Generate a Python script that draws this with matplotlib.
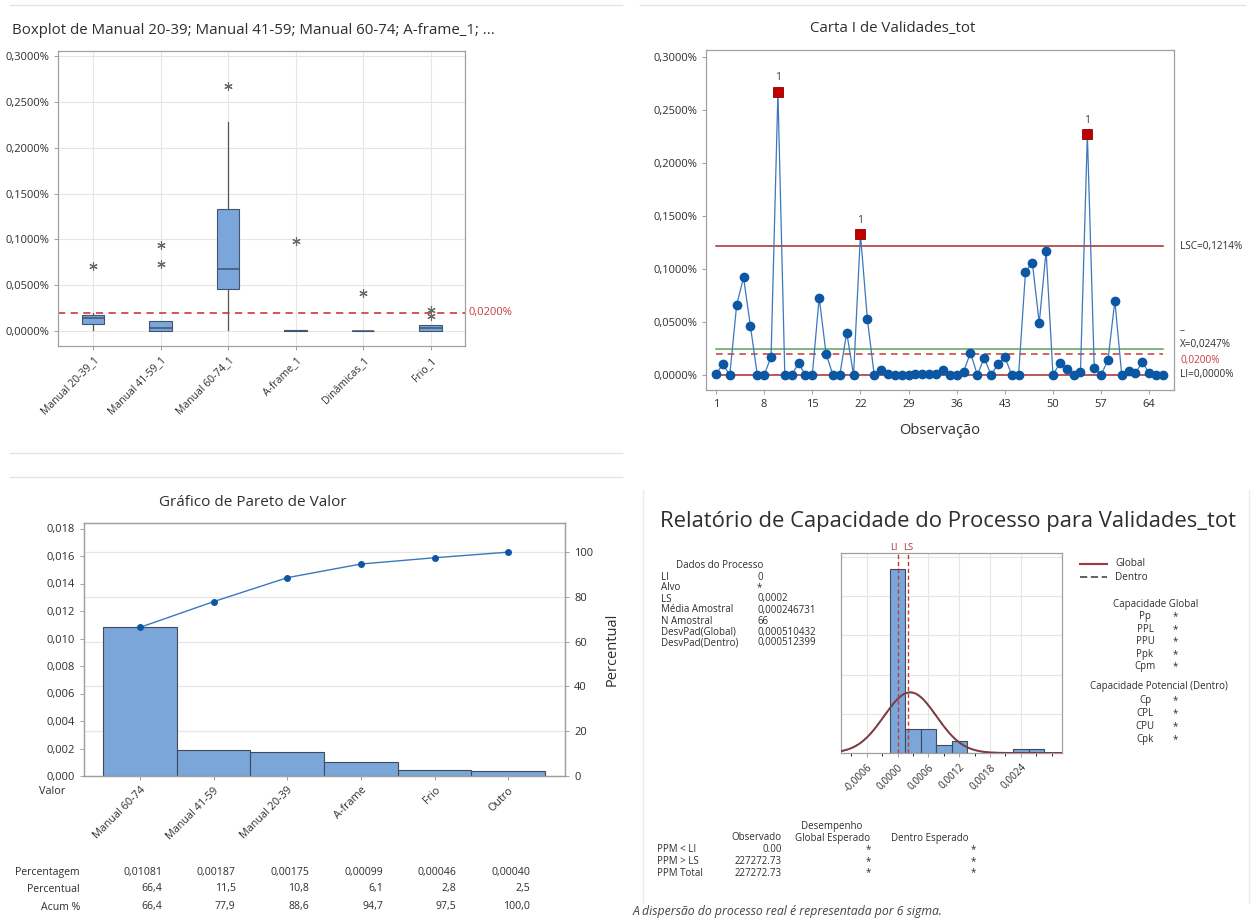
import numpy as np
import matplotlib.pyplot as plt
from matplotlib.ticker import FuncFormatter, MultipleLocator
import matplotlib.transforms as mtrans

plt.rcParams['font.family'] = ['Open Sans', 'DejaVu Sans']

W, H = 1252, 923

# ---------------- dados ----------------
# boxplot (valores em %)
box_nomes = ["Manual 20-39_1", "Manual 41-59_1", "Manual 60-74_1", "A-frame_1", "Dinâmicas_1", "Frio_1"]
box_q1 = [0.0080, 0.0000, 0.0462, 0.0000, 0.0000, 0.0000]
box_med = [0.0138, 0.0030, 0.0673, 0.0004, 0.0000, 0.0030]
box_q3 = [0.0172, 0.0113, 0.1335, 0.0012, 0.0002, 0.0062]
box_min = [0.0010, 0.0000, 0.0010, 0.0000, 0.0000, 0.0000]
box_max = [0.0195, 0.0113, 0.2284, 0.0012, 0.0002, 0.0062]
box_out = [[0.0709], [0.0938, 0.0731], [0.2673], [0.0978], [0.0415], [0.0229, 0.0164]]
limite = 0.0200

# carta I (valores em %)
validades = [0.001, 0.010, 0.000, 0.066, 0.092, 0.046, 0.000, 0.000, 0.017, 0.267,
             0.000, 0.000, 0.011, 0.000, 0.000, 0.073, 0.020, 0.000, 0.000, 0.040,
             0.000, 0.133, 0.053, 0.000, 0.005, 0.001, 0.000, 0.000, 0.000, 0.001,
             0.001, 0.001, 0.001, 0.005, 0.000, 0.000, 0.003, 0.021, 0.000, 0.016,
             0.000, 0.010, 0.017, 0.000, 0.000, 0.097, 0.106, 0.049, 0.117, 0.000,
             0.011, 0.006, 0.000, 0.003, 0.227, 0.007, 0.000, 0.014, 0.070, 0.000,
             0.004, 0.002, 0.012, 0.0015, 0.000, 0.000]
LSC = 0.1214
media = 0.0247
LI_carta = 0.0

# pareto
par_nomes = ["Manual 60-74", "Manual 41-59", "Manual 20-39", "A-frame", "Frio", "Outro"]
par_valor = [0.01081, 0.00187, 0.00175, 0.00099, 0.00046, 0.00040]
par_perc = [66.4, 11.5, 10.8, 6.1, 2.8, 2.5]
par_acum = [66.4, 77.9, 88.6, 94.7, 97.5, 100.0]

# capacidade
hist_bordas = [-0.00015, 0.00015, 0.00045, 0.00075, 0.00105, 0.00135, 0.00165,
               0.00195, 0.00225, 0.00255, 0.00285]
LI_cap, LS_cap = 0.0, 0.0002
media_cap = 0.000246731
dp_global = 0.000510432
dp_dentro = 0.000512399
dados_proc = [("LI", "0"), ("Alvo", "*"), ("LS", "0,0002"), ("Média Amostral", "0,000246731"),
              ("N Amostral", "66"), ("DesvPad(Global)", "0,000510432"), ("DesvPad(Dentro)", "0,000512399")]
cap_global = ["Pp", "PPL", "PPU", "Ppk", "Cpm"]
cap_dentro = ["Cp", "CPL", "CPU", "Cpk"]
ppm_nomes = ["PPM < LI", "PPM > LS", "PPM Total"]
ppm_obs = ["0.00", "227272.73", "227272.73"]

AZUL = '#7ba6da'
BORDA = '#3f5570'
VERM = '#a8282e'
CINZA = '#2e2e2e'
ESP = '#a0a0a0'


def caixa(l, t, r, b):
    return [l / W, 1 - b / H, (r - l) / W, (b - t) / H]


def virg(v, casas):
    return f"{v:.{casas}f}".replace(".", ",")


def estilo(ax):
    for s in ax.spines.values():
        s.set_color(ESP)
        s.set_linewidth(0.9)
    ax.tick_params(colors=CINZA, labelsize=8, length=3, width=0.7)
    ax.tick_params(axis='both', color=ESP)


fig = plt.figure(figsize=(W / 100, H / 100), dpi=100)
fig.patch.set_facecolor('white')

for x0, x1, y in [(10, 622, 5), (640, 1245, 5), (10, 622, 453), (10, 622, 477)]:
    fig.add_artist(plt.Line2D([x0 / W, x1 / W], [1 - y / H, 1 - y / H], color='#e4e4e4', lw=1))
for x in (643, 1249):
    fig.add_artist(plt.Line2D([x / W, x / W], [1 - 490 / H, 1 - 903 / H], color='#ececec', lw=1))

# ---------------- boxplot ----------------
ax1 = fig.add_axes(caixa(58, 51, 465, 346))
estilo(ax1)
stats = []
for i in range(len(box_nomes)):
    stats.append(dict(q1=box_q1[i], med=box_med[i], q3=box_q3[i],
                      whislo=box_min[i], whishi=box_max[i], fliers=box_out[i]))
ax1.bxp(stats, positions=range(len(box_nomes)), widths=0.33, patch_artist=True, showcaps=False,
        boxprops=dict(facecolor=AZUL, edgecolor=BORDA, lw=0.8),
        medianprops=dict(color=BORDA, lw=1.1),
        whiskerprops=dict(color='#555555', lw=0.9),
        flierprops=dict(marker=(6, 2, 0), markersize=6, markeredgecolor='#666666',
                        markeredgewidth=0.8))
ax1.axhline(limite, color='#d04848', lw=1.3, ls=(0, (4, 3)), zorder=1)
ax1.text(1.008, limite, virg(limite, 4) + "%", transform=mtrans.blended_transform_factory(ax1.transAxes, ax1.transData),
         color='#c83c3c', fontsize=8, va='center', ha='left')
ax1.set_xlim(-0.52, 5.51)
ax1.set_ylim(-0.0164, 0.3055)
ax1.set_yticks(np.arange(0, 0.30001, 0.05))
ax1.yaxis.set_major_formatter(FuncFormatter(lambda v, p: virg(v, 4) + "%"))
ax1.set_xticks(range(len(box_nomes)))
ax1.set_xticklabels(box_nomes, rotation=45, ha='right', rotation_mode='anchor', fontsize=7.5)
ax1.grid(True, color='#e6e6e6', lw=0.8)
ax1.set_axisbelow(True)
fig.text(12 / W, 1 - 30 / H, "Boxplot de Manual 20-39; Manual 41-59; Manual 60-74; A-frame_1; ...",
         fontsize=10.8, color=CINZA, va='center', ha='left')

# ---------------- carta I ----------------
ax2 = fig.add_axes(caixa(706, 50, 1174, 390))
estilo(ax2)
obs = np.arange(1, len(validades) + 1)
vals = np.array(validades)
ax2.plot([obs[0], obs[-1]], [LSC, LSC], color=VERM, lw=1.1, zorder=2)
ax2.plot([obs[0], obs[-1]], [LI_carta, LI_carta], color=VERM, lw=1.1, zorder=2)
ax2.plot([obs[0], obs[-1]], [media, media], color='#5aa55a', lw=1.1, zorder=2)
ax2.plot([obs[0], obs[-1]], [limite, limite], color='#d04848', lw=1.2, ls=(0, (4, 3)), zorder=2)
ax2.plot(obs, vals, color='#3b78bd', lw=0.9, zorder=3)
ok = vals <= LSC
ax2.plot(obs[ok], vals[ok], 'o', color='#0b57a4', ms=6, zorder=4)
ax2.plot(obs[~ok], vals[~ok], 's', color='#c00000', ms=6.5, mec='#8a0000', mew=0.6, zorder=5)
for x, y in zip(obs[~ok], vals[~ok]):
    ax2.text(x, y + 0.008, "1", ha='center', va='bottom', fontsize=7.5, color='#444444')
ax2.set_xlim(-0.46, 67.6)
ax2.set_ylim(-0.0142, 0.3066)
ax2.set_xticks(np.arange(1, 65, 7))
ax2.set_yticks(np.arange(0, 0.30001, 0.05))
ax2.yaxis.set_major_formatter(FuncFormatter(lambda v, p: virg(v, 4) + "%"))
ax2.set_xlabel("Observação", fontsize=10.5, color=CINZA, labelpad=9)
bl = mtrans.blended_transform_factory(ax2.transAxes, ax2.transData)
ax2.text(1.013, LSC, "LSC=" + virg(LSC, 4) + "%", transform=bl, fontsize=7.2, color=CINZA, va='center')
ax2.text(1.013, LI_carta, "LI=" + virg(LI_carta, 4) + "%", transform=bl, fontsize=7.2, color=CINZA, va='center')
ax2.text(1.013, media - 0.001, "X=" + virg(media, 4) + "%", transform=bl, fontsize=7.2, color=CINZA, va='bottom')
ax2.text(1.013, media + 0.012, "–", transform=bl, fontsize=7.2, color=CINZA, va='bottom')
ax2.text(1.013, limite - 0.0015, virg(limite, 4) + "%", transform=bl, fontsize=7.2, color='#c83c3c', va='top')
fig.text(893 / W, 1 - 29 / H, "Carta I de Validades_tot", fontsize=10.8, color=CINZA, ha='center', va='center')

# ---------------- pareto ----------------
ax3 = fig.add_axes(caixa(84, 523, 565, 776))
estilo(ax3)
pos = np.arange(len(par_nomes))
total = sum(par_valor)
for k in range(1, 6):
    ax3.axhline(total * k / 5, color='#e6e6e6', lw=0.9, zorder=0)
ax3.bar(pos, par_valor, width=1.0, color=AZUL, edgecolor='#404a58', lw=0.8, zorder=2)
ax3.set_xlim(-0.76, 5.77)
ax3.set_ylim(0, 0.0184)
ax3.set_yticks(np.arange(0, 0.0181, 0.002))
ax3.yaxis.set_major_formatter(FuncFormatter(lambda v, p: virg(v, 3)))
ax3.set_xticks(pos)
ax3.set_xticklabels(par_nomes, rotation=45, ha='right', rotation_mode='anchor', fontsize=7.8)
ax3r = ax3.twinx()
estilo(ax3r)
ax3r.set_ylim(0, 0.0184 / total * 100)
ax3r.set_yticks(np.arange(0, 101, 20))
ax3r.plot(pos, par_acum, '-', color='#3b78bd', lw=1.0)
ax3r.plot(pos, par_acum, 'o', color='#0b57a4', ms=4)
ax3r.set_ylabel("Percentual", fontsize=10.5, color=CINZA, labelpad=8)
ax3.text(-0.04, -0.04, "Valor", transform=ax3.transAxes, fontsize=7.8, color=CINZA, ha='right', va='top')
fig.text(253 / W, 1 - 503 / H, "Gráfico de Pareto de Valor", fontsize=11, color=CINZA, ha='center', va='center')
tx = mtrans.blended_transform_factory(ax3.transData, fig.transFigure)
linhas = [("Percentagem", [virg(v, 5) for v in par_valor], 872),
          ("Percentual", [virg(v, 1) for v in par_perc], 889),
          ("Acum %", [virg(v, 1) for v in par_acum], 907)]
for nome, textos, y in linhas:
    fig.text(80 / W, 1 - y / H, nome, fontsize=7.6, color=CINZA, ha='right', va='center')
    for p, t in zip(pos, textos):
        ax3.text(p + 0.3, 1 - y / H, t, transform=tx, fontsize=7.6, color=CINZA, ha='right', va='center')

# ---------------- capacidade ----------------
fig.text(948 / W, 1 - 521 / H, "Relatório de Capacidade do Processo para Validades_tot",
         fontsize=15.8, color=CINZA, ha='center', va='center')
ax4 = fig.add_axes(caixa(841, 553, 1062, 753))
estilo(ax4)
ax4.hist(vals / 100, bins=hist_bordas, color=AZUL, edgecolor='#404a58', lw=0.8, zorder=2)
xs = np.linspace(-0.0011, 0.0032, 400)
esc = len(vals) * (hist_bordas[1] - hist_bordas[0])
g = esc / (dp_global * np.sqrt(2 * np.pi)) * np.exp(-0.5 * ((xs - media_cap) / dp_global) ** 2)
d = esc / (dp_dentro * np.sqrt(2 * np.pi)) * np.exp(-0.5 * ((xs - media_cap) / dp_dentro) ** 2)
ax4.plot(xs, g, color='#9b2b36', lw=1.4, zorder=3)
ax4.plot(xs, d, color='#555555', lw=1.0, ls=(0, (5, 3)), zorder=3)
for xv in (LI_cap, LS_cap):
    ax4.axvline(xv, color='#c03a3a', lw=1.0, ls=(0, (3, 2)), zorder=4)
bx = mtrans.blended_transform_factory(ax4.transData, ax4.transAxes)
ax4.text(LI_cap, 1.005, "LI", transform=bx, ha='right', va='bottom', fontsize=6.8, color='#b03030')
ax4.text(LS_cap, 1.005, "LS", transform=bx, ha='center', va='bottom', fontsize=6.8, color='#b03030')
ax4.set_xlim(-0.0011, 0.0032)
ax4.set_ylim(0, 51)
ax4.set_yticks(np.arange(0, 51, 10))
ax4.set_yticklabels([])
ax4.tick_params(axis='y', length=0)
ax4.set_xticks(np.arange(-0.0006, 0.00241, 0.0006))
ax4.xaxis.set_minor_locator(MultipleLocator(0.0003))
ax4.xaxis.set_major_formatter(FuncFormatter(lambda v, p: virg(v + 0.0, 4)))
plt.setp(ax4.get_xticklabels(), rotation=45, ha='right', rotation_mode='anchor', fontsize=7.2)
ax4.grid(True, color='#e6e6e6', lw=0.8)
ax4.set_axisbelow(True)

# bloco dados do processo
fig.text(720 / W, 1 - 565 / H, "Dados do Processo", fontsize=7, color=CINZA, ha='center', va='center')
for i, (nome, v) in enumerate(dados_proc):
    y = 577 + i * 11
    fig.text(661 / W, 1 - y / H, nome, fontsize=7, color=CINZA, va='center')
    fig.text(757 / W, 1 - y / H, v, fontsize=7, color=CINZA, va='center')

# legenda
fig.add_artist(plt.Line2D([1080 / W, 1107 / W], [1 - 564 / H] * 2, color='#a8343d', lw=1.5))
fig.add_artist(plt.Line2D([1080 / W, 1107 / W], [1 - 577 / H] * 2, color='#555555', lw=1.3, ls=(0, (4, 2))))
fig.text(1115 / W, 1 - 564 / H, "Global", fontsize=7.2, color=CINZA, va='center')
fig.text(1115 / W, 1 - 577 / H, "Dentro", fontsize=7.2, color=CINZA, va='center')

fig.text(1156 / W, 1 - 604 / H, "Capacidade Global", fontsize=7, color=CINZA, ha='center', va='center')
for i, nome in enumerate(cap_global):
    y = 617 + i * 12.5
    fig.text(1145 / W, 1 - y / H, nome, fontsize=7, color=CINZA, ha='center', va='center')
    fig.text(1175 / W, 1 - y / H, "*", fontsize=7, color=CINZA, ha='center', va='center')
fig.text(1159 / W, 1 - 686 / H, "Capacidade Potencial (Dentro)", fontsize=7, color=CINZA, ha='center', va='center')
for i, nome in enumerate(cap_dentro):
    y = 701 + i * 12.8
    fig.text(1145 / W, 1 - y / H, nome, fontsize=7, color=CINZA, ha='center', va='center')
    fig.text(1175 / W, 1 - y / H, "*", fontsize=7, color=CINZA, ha='center', va='center')

# desempenho
fig.text(832 / W, 1 - 826 / H, "Desempenho", fontsize=7, color=CINZA, ha='center', va='center')
fig.text(782 / W, 1 - 838 / H, "Observado", fontsize=7, color=CINZA, ha='right', va='center')
fig.text(833 / W, 1 - 838 / H, "Global Esperado", fontsize=7, color=CINZA, ha='center', va='center')
fig.text(930 / W, 1 - 838 / H, "Dentro Esperado", fontsize=7, color=CINZA, ha='center', va='center')
for i, nome in enumerate(ppm_nomes):
    y = 850 + i * 11.5
    fig.text(657 / W, 1 - y / H, nome, fontsize=7, color=CINZA, va='center')
    fig.text(782 / W, 1 - y / H, ppm_obs[i], fontsize=7, color=CINZA, ha='right', va='center')
    fig.text(868 / W, 1 - y / H, "*", fontsize=7, color=CINZA, ha='center', va='center')
    fig.text(973 / W, 1 - y / H, "*", fontsize=7, color=CINZA, ha='center', va='center')
fig.text(633 / W, 1 - 912 / H, "A dispersão do processo real é representada por 6 sigma.",
         fontsize=8.8, color='#444444', style='italic', va='center')

fig.savefig("out.png", dpi=100)
